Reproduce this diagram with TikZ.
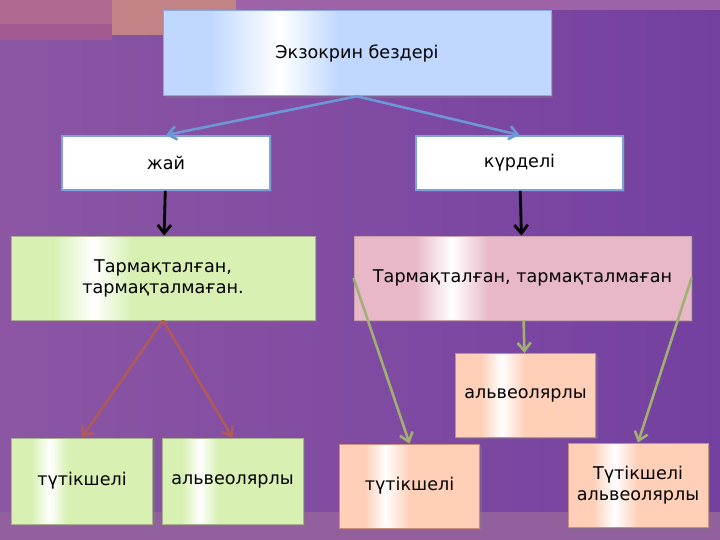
\documentclass[tikz,border=0pt]{standalone}
\usepackage{fontspec}
\setmainfont{DejaVu Sans}
\usepackage{xcolor}
\usepackage{tikz}
\usetikzlibrary{arrows.meta,shadows,calc}
\definecolor{bgleft}{HTML}{8C56A4}
\definecolor{bgright}{HTML}{7440A0}
\definecolor{bandtop}{HTML}{9E62A6}
\definecolor{bandbot}{HTML}{93609E}
\definecolor{decopink}{HTML}{B06A92}
\definecolor{decodark}{HTML}{A25A90}
\definecolor{decolight}{HTML}{C28386}
\definecolor{exoblue}{HTML}{C0D8FF}
\definecolor{exoline}{HTML}{8CA8E0}
\definecolor{plainline}{HTML}{7EA1D9}
\definecolor{leafgreen}{HTML}{D8F0B2}
\definecolor{greenline}{HTML}{A8B090}
\definecolor{rosepink}{HTML}{E8B8C8}
\definecolor{pinkline}{HTML}{C8A0B0}
\definecolor{peach}{HTML}{FFCFB8}
\definecolor{peachline}{HTML}{C8907A}
\definecolor{arrowblue}{HTML}{6C98D8}
\definecolor{arrowred}{HTML}{B05A5A}
\definecolor{arrowolive}{HTML}{A0B070}
\tikzset{
  gloss/.style n args={4}{
    path picture={
      \fill[#1] (path picture bounding box.south west) rectangle (path picture bounding box.north east);
      \shade[left color=#1, right color=white]
        ($(path picture bounding box.south west)!#2!(path picture bounding box.south east)+(0,0.8pt)$)
        rectangle ($(path picture bounding box.north west)!#3!(path picture bounding box.north east)+(0,-0.8pt)$);
      \shade[left color=white, right color=#1]
        ($(path picture bounding box.south west)!#3!(path picture bounding box.south east)+(0,0.8pt)$)
        rectangle ($(path picture bounding box.north west)!#4!(path picture bounding box.north east)+(0,-0.8pt)$);
    }
  },
  boxbase/.style={
    rectangle,
    align=center,
    font=\fontsize{15}{18}\selectfont,
    line width=0.8pt,
    drop shadow={shadow xshift=0.06cm, shadow yshift=-0.06cm, opacity=0.4}
  },
  topbox/.style={
    boxbase,
    gloss={exoblue}{0.12}{0.30}{0.45},
    draw=exoline,
    minimum width=11.64cm,
    minimum height=2.55cm
  },
  plainbox/.style={
    boxbase,
    fill=white,
    draw=plainline,
    line width=1.6pt,
    minimum width=6.22cm,
    minimum height=1.62cm
  },
  greenbox/.style={
    boxbase,
    gloss={leafgreen}{0.14}{0.27}{0.40},
    draw=greenline,
    minimum width=4.23cm,
    minimum height=2.58cm
  },
  pinkbox/.style={
    boxbase,
    gloss={rosepink}{0.18}{0.29}{0.40},
    draw=pinkline,
    minimum width=10.11cm,
    minimum height=2.52cm
  },
  peachbox/.style={
    boxbase,
    gloss={peach}{0.18}{0.33}{0.50},
    draw=peachline,
    minimum width=4.2cm,
    minimum height=2.52cm
  },
  bluearrow/.style={-{Straight Barb[length=2.5mm, width=4mm]}, line width=2.2pt, draw=arrowblue},
  blackarrow/.style={-{Straight Barb[length=2.5mm, width=4mm]}, line width=2.4pt, draw=black},
  redarrow/.style={-{Straight Barb[length=2.5mm, width=4mm]}, line width=2.2pt, draw=arrowred},
  olivearrow/.style={-{Straight Barb[length=2.5mm, width=4mm]}, line width=2.2pt, draw=arrowolive}
}
\begin{document}
\begin{tikzpicture}
  \useasboundingbox (0,0) rectangle (21.6,16.2);
  % background
  \shade[left color=bgleft, right color=bgright] (0,0) rectangle (21.6,16.2);
  \fill[bandtop] (7.08,15.9) rectangle (21.6,16.2);
  \fill[decopink] (0,15.48) rectangle (3.36,16.2);
  \fill[decodark] (0,15.0) rectangle (3.36,15.48);
  \fill[decolight] (3.36,15.15) rectangle (7.08,16.2);
  \fill[bandbot] (0,0) rectangle (21.6,0.84);

  \node[topbox] (exo) at (10.71,14.6) {Экзокрин бездері};
  \node[plainbox] (zhai) at (4.98,11.31) {жай};
  \node[plainbox] (kurdeli) at (15.585,11.31) {күрделі};
  \node[greenbox, minimum width=9.12cm, minimum height=2.52cm] (tarmL) at (4.89,7.86) {Тармақталған,\\тармақталмаған.};
  \node[pinkbox] (tarmR) at (15.675,7.86) {Тармақталған, тармақталмаған};
  \node[greenbox] (tutL) at (2.46,1.77) {түтікшелі};
  \node[greenbox] (alvL) at (6.975,1.77) {альвеолярлы};
  \node[peachbox] (alvM) at (15.765,4.335) {альвеолярлы};
  \node[peachbox] (tutR) at (12.285,1.62) {түтікшелі};
  \node[peachbox] (tutalv) at (19.14,1.65) {Түтікшелі\\альвеолярлы};

  \draw[bluearrow] (exo.south) -- (zhai.north);
  \draw[bluearrow] (exo.south) -- (kurdeli.north);
  \draw[blackarrow] (zhai) -- (tarmL);
  \draw[blackarrow] (kurdeli) -- (tarmR);
  \draw[redarrow] (tarmL.south) -- (tutL.north);
  \draw[redarrow] (tarmL.south) -- (alvL.north);
  \draw[olivearrow] (tarmR.west) -- (tutR.north);
  \draw[olivearrow] (tarmR) -- (alvM);
  \draw[olivearrow] (tarmR.east) -- (tutalv.north);
\end{tikzpicture}
\end{document}
